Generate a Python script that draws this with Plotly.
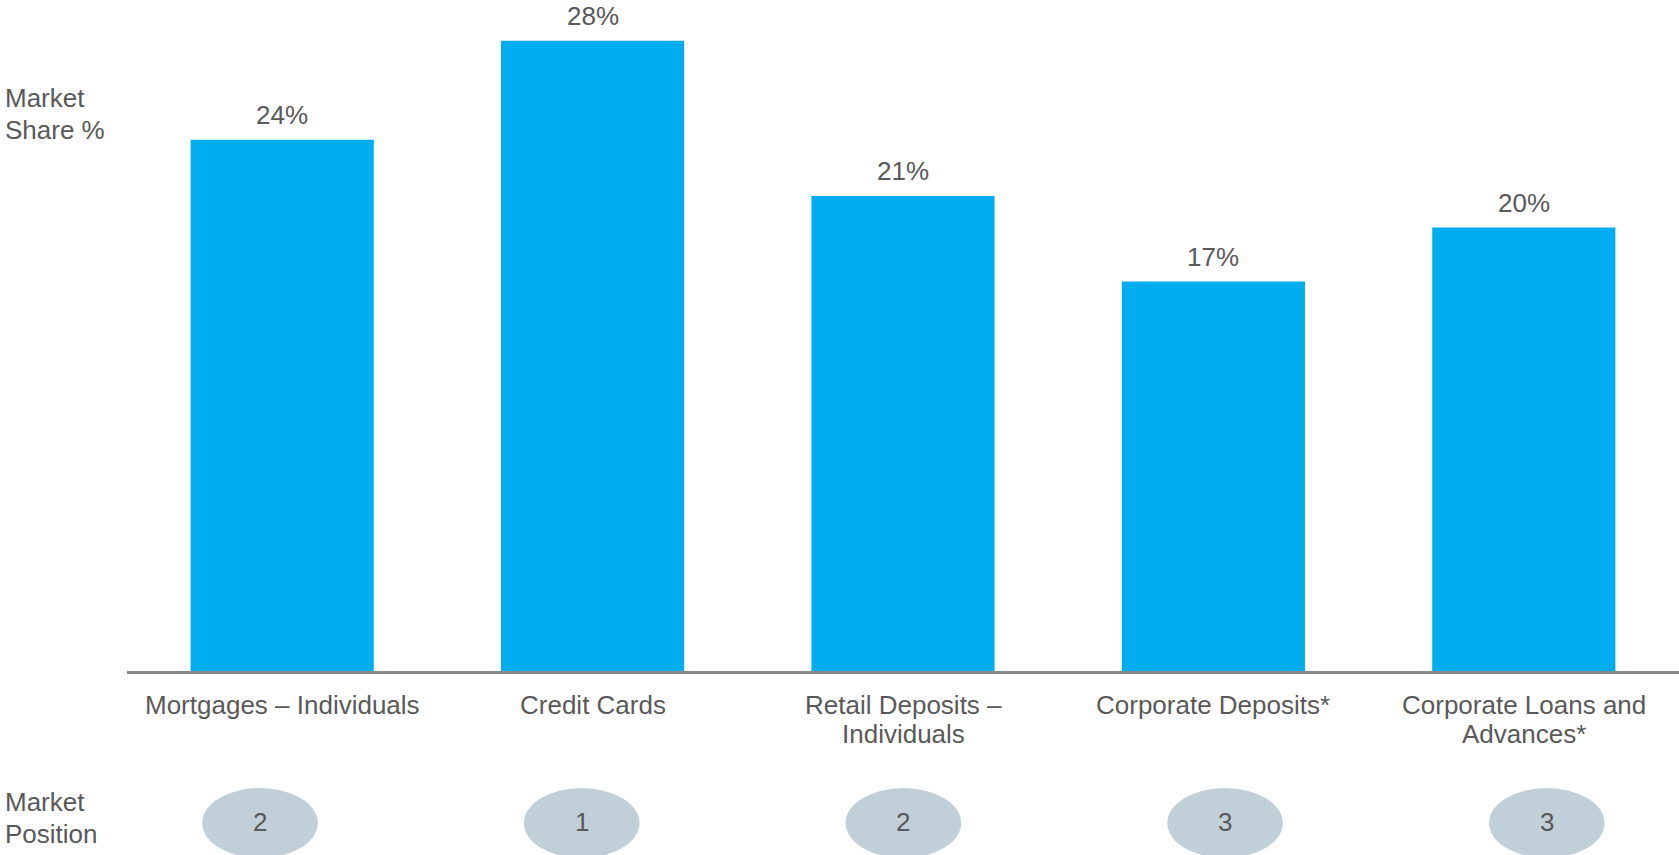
import plotly.graph_objects as go

# ---- data ----
categories = ["Mortgages – Individuals", "Credit Cards", "Retail Deposits –<br>Individuals",
              "Corporate Deposits*", "Corporate Loans and<br>Advances*"]
market_share = [23.6, 28.0, 21.1, 17.3, 19.7]
market_position = [2, 1, 2, 3, 3]
y_axis_label = ["Market", "Share %"]
pos_axis_label = ["Market", "Position"]

# ---- style / layout constants ----
W, H = 1679, 855
L, R, T, B = 127, 0, 7, 184
PW, PH = W - L - R, H - T - B
TEXT = "#595959"
BAR = "#00AEEF"
ELL = "#C1CFD9"
FONT = "Arial, Liberation Sans, sans-serif"
FS = 26

x_idx = list(range(len(categories)))

fig = go.Figure(go.Bar(
    x=x_idx, y=market_share, marker=dict(color=BAR, line=dict(width=0)),
    hoverinfo="skip",
))

ann = []
# value labels
for i, v in zip(x_idx, market_share):
    ann.append(dict(x=i, y=v, xref="x", yref="y", text=f"{v:.0f}%", showarrow=False,
                    yanchor="middle", xanchor="center", yshift=25,
                    font=dict(family=FONT, size=FS, color=TEXT)))
# category labels (one annotation per line for tight line spacing)
for i, c in zip(x_idx, categories):
    for k, line in enumerate(c.split("<br>")):
        ann.append(dict(x=i, y=0, xref="x", yref="y", text=line, showarrow=False,
                        yanchor="middle", xanchor="center", yshift=-34 - 29 * k,
                        font=dict(family=FONT, size=FS, color=TEXT)))
# axis side labels
for k, line in enumerate(y_axis_label):
    ann.append(dict(x=(3 - L) / PW, y=(H - B - (97.5 + 32.6 * k)) / PH - (H - B - T - PH) / PH,
                    xref="paper", yref="paper", text=line, showarrow=False,
                    xanchor="left", yanchor="middle",
                    font=dict(family=FONT, size=FS, color=TEXT)))
for k, line in enumerate(pos_axis_label):
    ann.append(dict(x=(3 - L) / PW, y=-(802.5 + 31.7 * k - (H - B)) / PH,
                    xref="paper", yref="paper", text=line, showarrow=False,
                    xanchor="left", yanchor="middle",
                    font=dict(family=FONT, size=FS, color=TEXT)))

# position ellipses + numbers
shapes = []
ell_c0, ell_step, ell_hw = 260.0, 321.7, 57.8
ell_top, ell_bot = 788.0, 858.0
for i, p in zip(x_idx, market_position):
    cx = ell_c0 + ell_step * i
    shapes.append(dict(type="circle", xref="paper", yref="paper",
                       x0=(cx - ell_hw - L) / PW, x1=(cx + ell_hw - L) / PW,
                       y0=-(ell_top - (H - B)) / PH, y1=-(ell_bot - (H - B)) / PH,
                       fillcolor=ELL, line=dict(width=0), layer="above"))
    ann.append(dict(x=(cx - L) / PW, y=-((ell_top + ell_bot) / 2 - 1 - (H - B)) / PH,
                    xref="paper", yref="paper", text=str(p), showarrow=False,
                    xanchor="center", yanchor="middle",
                    font=dict(family=FONT, size=FS, color=TEXT)))

fig.update_layout(
    width=W, height=H,
    margin=dict(l=L, r=R, t=T, b=B, pad=0),
    paper_bgcolor="white", plot_bgcolor="white",
    bargap=0.41, showlegend=False,
    annotations=ann, shapes=shapes,
    xaxis=dict(range=[-0.5, len(categories) - 0.5], showticklabels=False, ticks="",
               showgrid=False, zeroline=False, showline=True,
               linecolor="#898989", linewidth=2.5, fixedrange=True),
    yaxis=dict(range=[0, 29.5], visible=False, fixedrange=True),
)

fig.write_html("out.html", config={"displayModeBar": False})
